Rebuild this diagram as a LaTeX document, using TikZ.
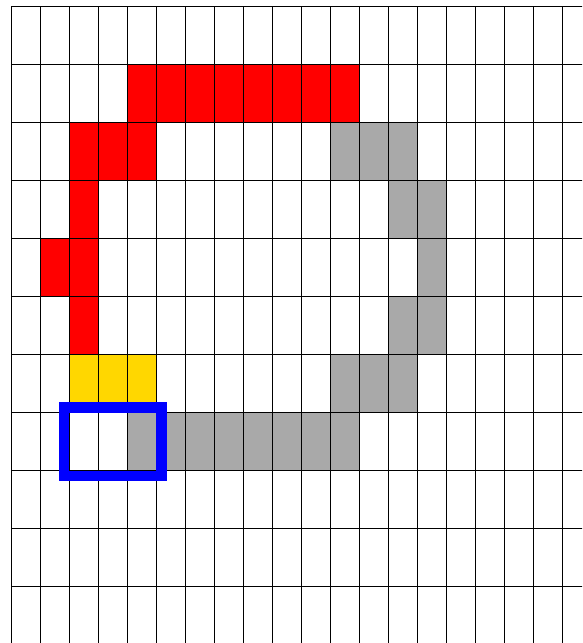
\documentclass[tikz,border=0pt]{standalone}
\usepackage{xcolor}
\usepackage{tikz}
\definecolor{cPath}{RGB}{255,0,0}
\definecolor{cWall}{RGB}{169,169,169}
\definecolor{cStart}{RGB}{255,215,0}
\definecolor{cFocus}{RGB}{0,0,255}

\begin{document}
\begin{tikzpicture}[x=0.58cm,y=-1.16cm,line width=0.6pt]
\useasboundingbox (-0.3897,-0.1155) rectangle (19.679,10.97);
\clip (-0.3897,-0.1155) rectangle (19.679,10.97);
% path cells
\foreach \c/\r in {4/1,5/1,6/1,7/1,8/1,9/1,10/1,11/1,2/2,3/2,4/2,2/3,1/4,2/4,2/5}
  \fill[cPath] (\c,\r) rectangle ++(1,1);
\foreach \c/\r in {2/6,3/6,4/6}
  \fill[cStart] (\c,\r) rectangle ++(1,1);
% wall cells
\foreach \c/\r in {11/2,12/2,13/2,13/3,14/3,14/4,13/5,14/5,11/6,12/6,13/6,4/7,5/7,6/7,7/7,8/7,9/7,10/7,11/7}
  \fill[cWall] (\c,\r) rectangle ++(1,1);
% grid
\foreach \c in {0,...,20} \draw (\c,0) -- (\c,11);
\foreach \r in {0,...,11} \draw (0,\r) -- (20,\r);
\draw[cFocus,line width=0.214cm] (1.816,6.908) rectangle (5.184,8.092);
\end{tikzpicture}
\end{document}
